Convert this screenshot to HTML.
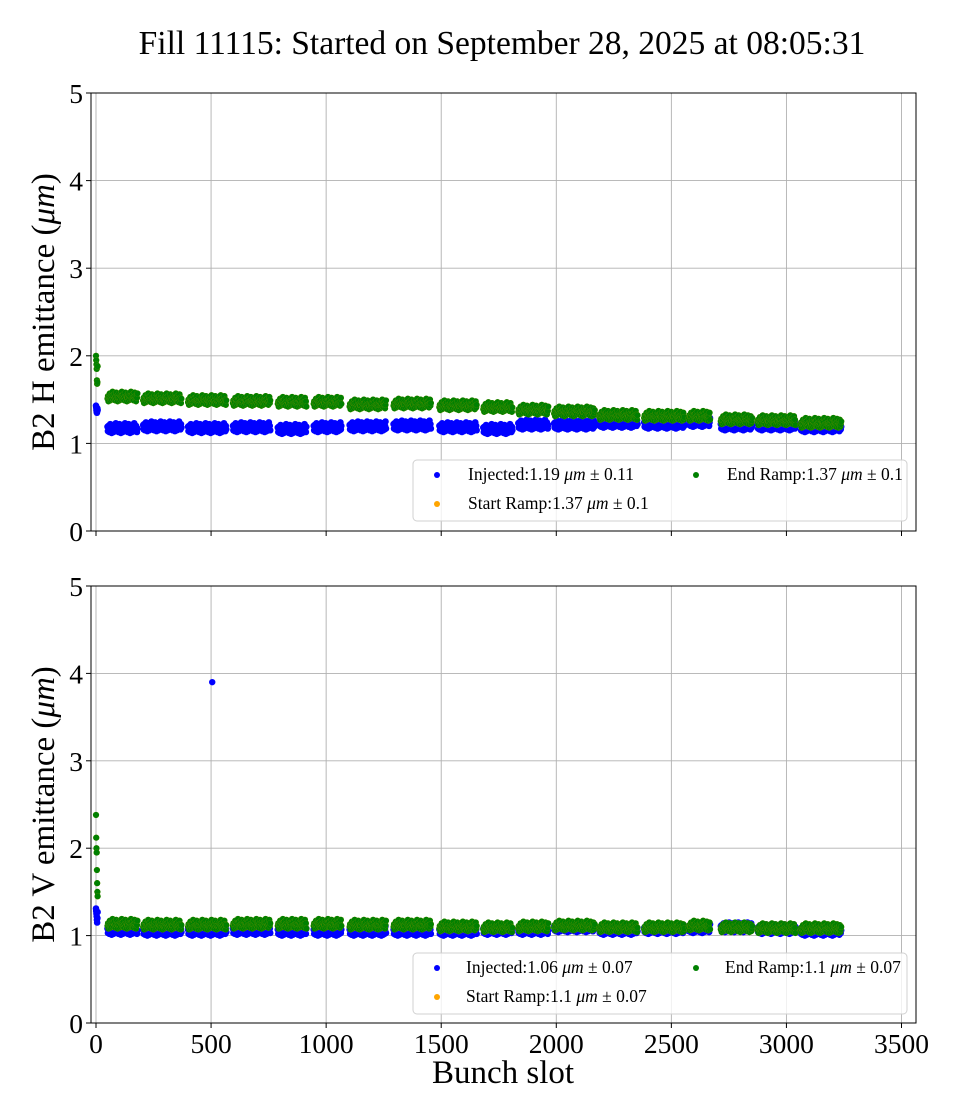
<!DOCTYPE html>
<html><head><meta charset="utf-8"><style>
body{margin:0;background:#fff;}
svg{display:block;font-family:"Liberation Serif",serif;}
</style></head><body>
<svg id="chart" width="960" height="1120"></svg>
<script>
// ---- data ----
const trainStart=[50,205,400,595,790,946,1102,1293,1492,1683,1835,1991,2187,2382,2576,2715,2875,3062];
const trainEnd=[180,372,567,758,915,1066,1260,1456,1655,1810,1965,2167,2353,2557,2668,2852,3040,3238];
const hInj=[1.16,1.18,1.16,1.17,1.15,1.17,1.18,1.19,1.17,1.15,1.2,1.2,1.22,1.21,1.23,1.19,1.19,1.17];
const hEnd=[1.52,1.5,1.48,1.47,1.46,1.46,1.43,1.44,1.42,1.4,1.37,1.35,1.31,1.3,1.3,1.26,1.25,1.22];
const vInj=[1.05,1.04,1.04,1.05,1.04,1.04,1.04,1.04,1.04,1.05,1.05,1.08,1.05,1.06,1.07,1.08,1.06,1.04];
const vEnd=[1.12,1.11,1.11,1.12,1.12,1.12,1.11,1.11,1.09,1.08,1.09,1.1,1.08,1.08,1.1,1.08,1.07,1.07];
const jitter=[0.03,-0.02,0.04,0.0,-0.03,0.01,0.06,-0.01,0.02,-0.04,0.01,0.0,0.05,-0.03,0.0,0.03,-0.02,0.02,0.07,-0.01];
const earlySlots=[0,1,2,3,4,5,6,7];
const hInjEarly=[1.43,1.41,1.38,1.36,1.35,1.37,1.4,1.38];
const hEndEarly=[2.0,1.95,1.9,1.85,1.72,1.68,1.7,1.88];
const vInjEarly=[1.31,1.28,1.25,1.22,1.18,1.15,1.2,1.27];
const vEndEarly=[2.38,2.12,2.0,1.95,1.75,1.6,1.5,1.45];
const outlierSlot=[505]; const outlierV=[3.9];
const xTicks=[0,500,1000,1500,2000,2500,3000,3500];
const yTicks=[0,1,2,3,4,5];

const NS="http://www.w3.org/2000/svg";
const svg=document.getElementById('chart');
function el(tag,attrs,parent){const e=document.createElementNS(NS,tag);for(const k in attrs)e.setAttribute(k,attrs[k]);(parent||svg).appendChild(e);return e;}
const X0=96,XS=(901.5-96)/3500;
const xs=s=>X0+s*XS;
const L=91,R=916;
const panels=[{top:93,bot:531,name:'h'},{top:586,bot:1023,name:'v'}];

const title=el('text',{x:502,y:54,'text-anchor':'middle','font-size':33.5});
title.textContent='Fill 11115: Started on September 28, 2025 at 08:05:31';



panels.forEach((p,pi)=>{
  const ys=v=>p.bot-(p.bot-p.top)*v/5;
  const g=el('g',{});
  
  
  xTicks.forEach(t=>{el('line',{x1:xs(t),x2:xs(t),y1:p.top,y2:p.bot,stroke:'#b0b0b0','stroke-width':0.9},g);
    el('line',{x1:xs(t),x2:xs(t),y1:p.bot,y2:p.bot+5,stroke:'#000','stroke-width':1},g);
    if(pi==1){const tx=el('text',{x:xs(t),y:p.bot+30,'text-anchor':'middle','font-size':27.5},g);tx.textContent=t;
      }});
  yTicks.forEach(t=>{el('line',{x1:L,x2:R,y1:ys(t),y2:ys(t),stroke:'#b0b0b0','stroke-width':0.9},g);
    el('line',{x1:L-5,x2:L,y1:ys(t),y2:ys(t),stroke:'#000','stroke-width':1},g);
    const tx=el('text',{x:L-8,y:ys(t)+10,'text-anchor':'end','font-size':27.5},g);tx.textContent=t;
    });
  const inj=pi==0?hInj:vInj, end=pi==0?hEnd:vEnd;
  const injE=pi==0?hInjEarly:vInjEarly, endE=pi==0?hEndEarly:vEndEarly;
  const pts=el('g',{},g);
  
  const dot=(s,v,c,r,n)=>{const d=el('circle',{cx:xs(s),cy:ys(v),r:r,fill:c},pts);};
  trainStart.forEach((s0,i)=>{let k=0;for(let s=s0;s<=trainEnd[i];s+=2,k++){dot(s,inj[i]+jitter[k%jitter.length],'#0000ff',3.3,'injected-point');}});
  earlySlots.forEach((s,i)=>dot(s,injE[i],'#0000ff',3.3,'injected-point'));
  if(pi==1) outlierSlot.forEach((s,i)=>dot(s,outlierV[i],'#0000ff',3.2,'injected-outlier'));
  trainStart.forEach((s0,i)=>{let k=0;for(let s=s0;s<=trainEnd[i];s+=2,k++){const v=end[i]+jitter[(k+7)%jitter.length];dot(s,v,'#ffa500',3.1,'start-ramp-point');dot(s,v,'#008000',3.1,'end-ramp-point');}});
  earlySlots.forEach((s,i)=>{dot(s,endE[i],'#ffa500',3.1,'start-ramp-point');dot(s,endE[i],'#008000',3.1,'end-ramp-point');});
  el('rect',{x:L,y:p.top,width:R-L,height:p.bot-p.top,fill:'none',stroke:'#000','stroke-width':1},g);
  const yl=el('text',{x:0,y:0,'text-anchor':'middle','font-size':33,transform:`translate(54,${(p.top+p.bot)/2}) rotate(-90)`},g);
  yl.innerHTML=`B2 ${pi==0?'H':'V'} emittance (<tspan font-style="italic">μm</tspan>)`;
  
  const ly=pi==0?460:953;
  const lg=el('g',{},g);
  
  el('rect',{x:413,y:ly,width:494,height:61,rx:4,fill:'#fff','fill-opacity':0.8,stroke:'#d0d0d0'},lg);
  const m=pi==0?['1.19','0.11','1.37','0.1']:['1.06','0.07','1.1','0.07'];
  const ent=[[437,ly+15,'#0000ff',`Injected:${m[0]} <tspan font-style="italic">μm</tspan> ± ${m[1]}`,'legend-entry-injected'],
             [437,ly+44,'#ffa500',`Start Ramp:${m[2]} <tspan font-style="italic">μm</tspan> ± ${m[3]}`,'legend-entry-start-ramp'],
             [696,ly+15,'#008000',`End Ramp:${m[2]} <tspan font-style="italic">μm</tspan> ± ${m[3]}`,'legend-entry-end-ramp']];
  ent.forEach(e=>{const eg=el('g',{},lg);
    el('circle',{cx:e[0],cy:e[1],r:3,fill:e[2]},eg);
    const t=el('text',{x:e[0]+(pi==0?31:29),y:e[1]+5,'font-size':17.5},eg);t.innerHTML=e[3];});
});
const xl=el('text',{x:503,y:1083,'text-anchor':'middle','font-size':33});
xl.textContent='Bunch slot';


</script>
</body></html>
